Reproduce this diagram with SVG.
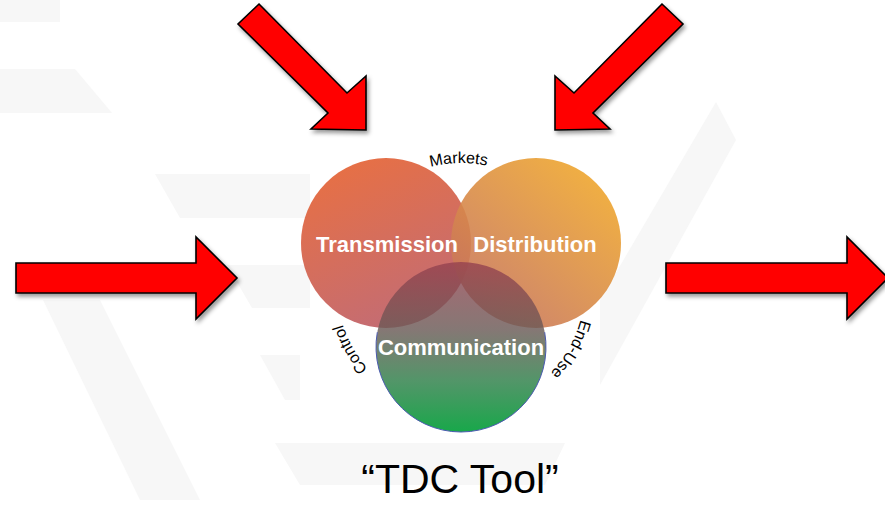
<svg xmlns="http://www.w3.org/2000/svg" xmlns:xlink="http://www.w3.org/1999/xlink" width="885" height="511" viewBox="0 0 885 511">
<style>
.bg{fill:#f7f7f7}
.arrow{fill:#ff0000;stroke:#000;stroke-width:1.6;stroke-linejoin:miter;filter:url(#shadow)}
.big{font-family:"Liberation Sans",Arial,sans-serif;font-weight:bold;font-size:22px;fill:#fff;text-anchor:middle}
.lbl{font-family:"Liberation Sans",Arial,sans-serif;font-size:16px;fill:#000}
.title{font-family:"Liberation Sans",Arial,sans-serif;font-size:41px;fill:#000;text-anchor:middle}
</style>
<defs>
<filter id="shadow" x="-20%" y="-20%" width="140%" height="140%">
<feDropShadow dx="2" dy="3" stdDeviation="2" flood-color="#000" flood-opacity="0.4"/>
</filter>
<linearGradient id="gT" x1="0.15" y1="0" x2="0.6" y2="1">
<stop offset="0" stop-color="#e86a3a"/>
<stop offset="1" stop-color="#c0666f"/>
</linearGradient>
<linearGradient id="gD" x1="0.9" y1="0.1" x2="0.2" y2="0.9">
<stop offset="0" stop-color="#f0a82c"/>
<stop offset="1" stop-color="#c8765c"/>
</linearGradient>
<linearGradient id="gC" x1="0" y1="0" x2="0" y2="1">
<stop offset="0" stop-color="#96414f" stop-opacity="0.8"/>
<stop offset="0.4" stop-color="#6a5a56" stop-opacity="0.82"/>
<stop offset="0.7" stop-color="#3f8a58" stop-opacity="0.9"/>
<stop offset="1" stop-color="#18a84a" stop-opacity="1"/>
</linearGradient>
<path id="ring" d="M461,411 A124,124 0 1 1 461,163 A124,124 0 1 1 461,411"/>
</defs>
<rect width="885" height="511" fill="#fff"/>
<g id="background">
<polygon class="bg" points="0,0 60,0 60,22 0,22"/>
<polygon class="bg" points="0,69 75,69 112,113 0,113"/>
<polygon class="bg" points="155,174 310,174 310,218 180,218"/>
<polygon class="bg" points="227,265 310,265 310,308 252,308"/>
<polygon class="bg" points="260,355 300,355 300,400 285,400"/>
<polygon class="bg" points="275,443 565,443 545,485 300,485"/>
<polygon class="bg" points="43,300 100,300 200,500 140,500"/>
<polygon class="bg" points="716,102 736,140 600,385 600,300"/>
</g>
<g id="connectors">
<polygon id="arrow-top-left" class="arrow" points="259,4 347,93 366,76 366,130 311,129 328,113 238,24"/>
<polygon id="arrow-top-right" class="arrow" points="662,4 574,93 555,76 555,130 610,129 593,113 683,24"/>
<polygon id="arrow-left" class="arrow" points="16,263 196,263 196,237 237,278 196,319 196,293 16,293"/>
<polygon id="arrow-right" class="arrow" points="666,263 847,263 847,237 888,278 847,319 847,293 666,293"/>
</g>
<g id="transmission">
<circle cx="386" cy="243" r="85" fill="url(#gT)" opacity="0.96"/>
</g>
<g id="distribution">
<circle cx="536" cy="243" r="85" fill="url(#gD)" opacity="0.9"/>
</g>
<g id="communication">
<circle cx="461" cy="347" r="85" fill="url(#gC)"/>
<path d="M377.3,332.2 A85,85 0 1 0 544.7,332.2" fill="none" stroke="#4a5ab0" stroke-width="1"/>
</g>
<g id="labels">
<text class="big" x="387" y="252">Transmission</text>
<text class="big" x="535" y="252">Distribution</text>
<text class="big" x="461" y="355">Communication</text>
<text class="lbl"><textPath href="#ring" xlink:href="#ring" startOffset="387" text-anchor="middle">Markets</textPath></text>
<text class="lbl"><textPath href="#ring" xlink:href="#ring" startOffset="131" text-anchor="middle">Control</textPath></text>
<text class="lbl"><textPath href="#ring" xlink:href="#ring" startOffset="648" text-anchor="middle">End-Use</textPath></text>
</g>
<g id="title">
<text class="title" x="460" y="493">“TDC Tool”</text>
</g>
</svg>
